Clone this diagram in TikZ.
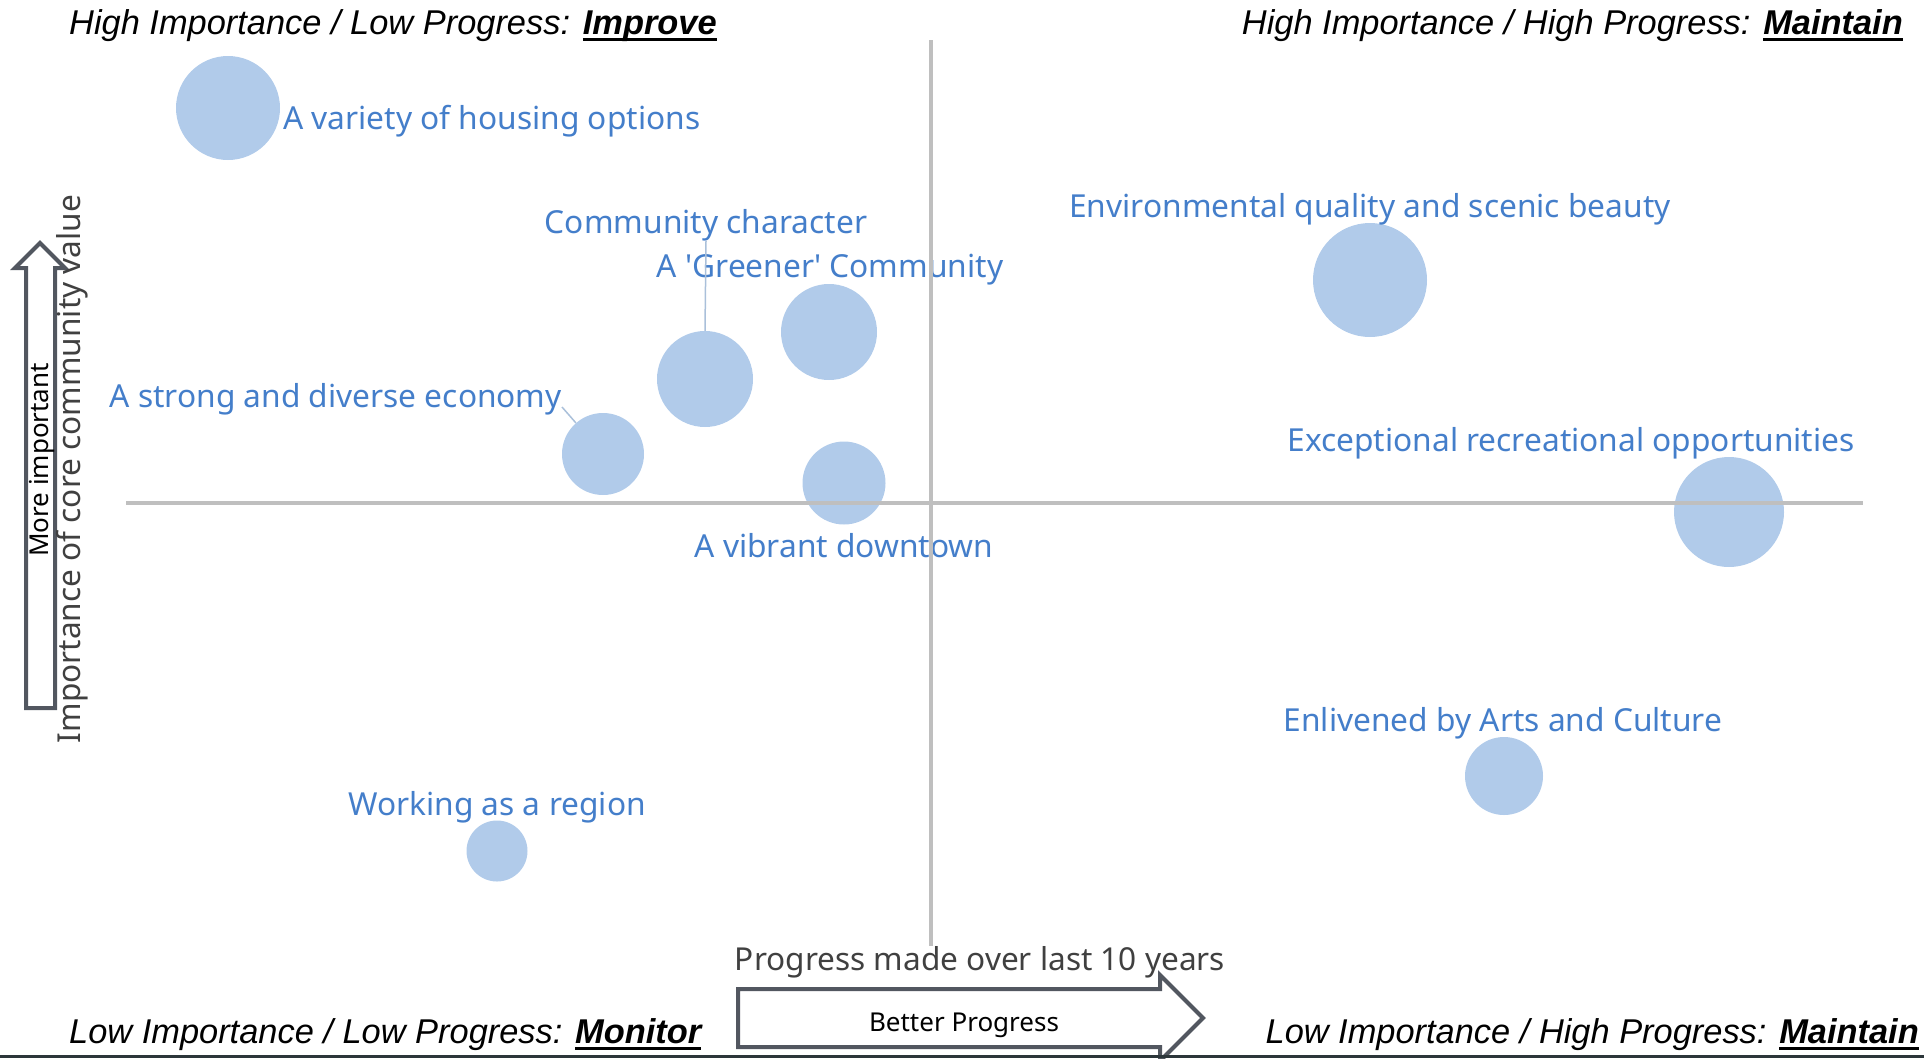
\documentclass[tikz,border=0pt]{standalone}
\usepackage{fontspec}
\setmainfont{Liberation Sans}
\newfontfamily\labelfont{Noto Sans}
\usetikzlibrary{positioning,calc}
\definecolor{bubblefill}{RGB}{177,203,234}
\definecolor{labelblue}{RGB}{68,126,202}
\definecolor{axisgray}{RGB}{191,191,191}
\definecolor{arrowgray}{RGB}{82,87,96}
\definecolor{titlegray}{RGB}{64,64,64}
\definecolor{edgeline}{RGB}{44,54,58}
\newcommand{\keyword}[1]{\setbox0\hbox{\bfseries #1}\rlap{\rule[-7pt]{\wd0}{3.5pt}}\box0}

\begin{document}
\begin{tikzpicture}[x=1pt,y=-1pt,
    bubble/.style={circle, fill=bubblefill, inner sep=0pt, minimum size=#1},
    valuelabel/.style={font=\labelfont\fontsize{31.7}{36}\selectfont, text=labelblue, inner sep=0pt},
    quadrant/.style={font=\fontsize{34.4}{40}\selectfont\itshape, inner sep=0pt},
    axistitle/.style={font=\labelfont\fontsize{31.6}{36}\selectfont, text=titlegray, inner sep=0pt},
    arrowtext/.style={font=\labelfont\fontsize{26}{30}\selectfont, inner sep=0pt},
    leader/.style={draw=bubblefill!85!gray, line width=1.5pt},
    blockarrow/.style={draw=arrowgray, line width=4pt, fill=white, line join=miter}]
    \useasboundingbox (0,0) rectangle (1924,1058);
    % bubbles
    \node[bubble=104] (housing) at (228,108) {};
    \node[bubble=96] (character) at (705,379) {};
    \node[bubble=96] (greener) at (829,332) {};
    \node[bubble=82] (economy) at (603,454) {};
    \node[bubble=83] (downtown) at (844,483) {};
    \node[bubble=114] (environment) at (1370,280) {};
    \node[bubble=110] (recreation) at (1729,512) {};
    \node[bubble=78] (arts) at (1504,776) {};
    \node[bubble=61] (region) at (497,851) {};
    % labels
    \node[valuelabel, anchor=base west] (housing label) at (283,129) {A variety of housing options};
    \node[valuelabel, anchor=base] (character label) at (706,233) {Community character};
    \node[valuelabel, anchor=base] (greener label) at (830,277) {A \textquotesingle Greener\textquotesingle{} Community};
    \node[valuelabel, anchor=base east] (economy label) at (562,407) {A strong and diverse economy};
    \node[valuelabel, anchor=base] (downtown label) at (844,557) {A vibrant downtown};
    \node[valuelabel, anchor=base] (environment label) at (1370,217) {Environmental quality and scenic beauty};
    \node[valuelabel, anchor=base] (recreation label) at (1571,451) {Exceptional recreational opportunities};
    \node[valuelabel, anchor=base] (arts label) at (1503,731) {Enlivened by Arts and Culture};
    \node[valuelabel, anchor=base] (region label) at (497,815) {Working as a region};
    \draw[leader] (character label.south) -- (character.north);
    \draw[leader] (economy label.base east) -- (economy);
    % axes
    \draw[axisgray, line width=3.5pt] (126,503) -- (1863,503);
    \draw[axisgray, line width=3.5pt] (931,40) -- (931,946);
    % quadrant titles
    \node[quadrant, anchor=base west] (improve) at (69,34) {High Importance / Low Progress: \keyword{Improve}};
    \node[quadrant, anchor=base east] (maintain high) at (1903,34) {High Importance / High Progress: \keyword{Maintain}};
    \node[quadrant, anchor=base west] (monitor) at (69,1043) {Low Importance / Low Progress: \keyword{Monitor}};
    \node[quadrant, anchor=base east] (maintain low) at (1919,1043) {Low Importance / High Progress: \keyword{Maintain}};
    % axis arrows
    \draw[blockarrow] (738,989) -- (1160,989) -- (1160,975) -- (1203,1018) -- (1160,1061)
        -- (1160,1047) -- (738,1047) -- cycle;
    \node[arrowtext, anchor=base] (better) at (964,1031) {Better Progress};
    \draw[blockarrow] (26,708) -- (26,268) -- (15,268) -- (40,243) -- (65,268) -- (55,268)
        -- (55,708) -- cycle;
    \node[arrowtext, rotate=90, anchor=base] (important) at (48,460) {More important};
    \node[axistitle, anchor=base] (progress title) at (980,970) {Progress made over last 10 years};
    \node[axistitle, rotate=90, anchor=base] (importance title) at (80,469) {Importance of core community value};
    \fill[edgeline] (0,1055) rectangle (1924,1058);
\end{tikzpicture}
\end{document}
